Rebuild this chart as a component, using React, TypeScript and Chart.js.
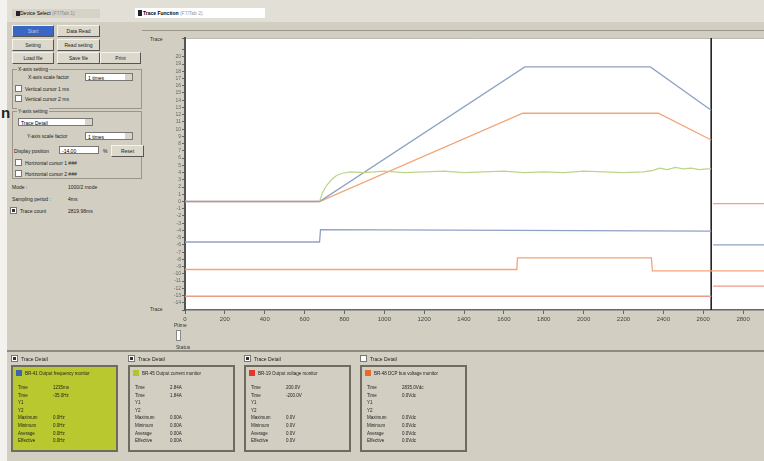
import React, { useEffect, useRef } from "react";
import { Chart, registerables } from "chart.js";

Chart.register(...registerables);

// ---- data (time in ms, value in trace units) ----
const xTickStep = 200;
const xMax = 2905;
const yMin = -15;
const yMax = 22.6;

const blueRampX = [0, 675, 1705, 2335, 2640];
const blueRampY = [0, 0, 18.6, 18.6, 12.6];

const orangeRampX = [0, 675, 1695, 2375, 2640];
const orangeRampY = [0, 0, 12.2, 12.2, 8.5];

const greenX = [675, 690, 710, 735, 760, 790, 830, 900, 1000, 1100, 1200, 1300, 1400, 1500, 1600, 1700, 1800, 1900, 2000, 2100, 2200, 2300, 2350, 2380, 2420, 2460, 2500, 2540, 2580, 2620, 2640];
const greenY = [0, 1.2, 2.2, 3.0, 3.6, 3.9, 4.1, 4.0, 4.2, 4.0, 4.1, 4.2, 4.0, 4.1, 4.2, 4.0, 4.1, 4.0, 4.2, 4.1, 4.0, 4.1, 4.3, 4.6, 4.4, 4.7, 4.5, 4.6, 4.4, 4.5, 4.5];

const lowBlueX = [0, 675, 680, 2640];
const lowBlueY = [-5.6, -5.6, -3.9, -4.1];

const lowOrangeX = [0, 1665, 1668, 2340, 2345, 2905];
const lowOrangeY = [-9.4, -9.4, -7.8, -7.8, -9.6, -9.6];

const bottomRedX = [0, 2640];
const bottomRedY = [-13.1, -13.1];

const afterOrangeX = [2650, 2905];
const afterOrangeY = [-0.3, -0.3];
const afterBlueX = [2650, 2905];
const afterBlueY = [-6.0, -6.0];
const afterPinkX = [2650, 2905];
const afterPinkY = [-11.7, -11.7];

const cursorX = [2640, 2640];
const cursorY = [yMin, yMax];

const pts = (xs: number[], ys: number[]) => xs.map((x, i) => ({ x, y: ys[i] }));

const BLUE = "#8ea2c6";
const ORANGE = "#f2a577";
const GREEN = "#bcd58a";
const RED = "#eb9a88";

const panel = "#d2cec2";

const ds = (xs: number[], ys: number[], color: string, w = 1.3) => ({
  data: pts(xs, ys),
  borderColor: color,
  borderWidth: w,
  pointRadius: 0,
  fill: false,
  tension: 0,
});

function TraceChart() {
  const ref = useRef<HTMLCanvasElement>(null);
  useEffect(() => {
    if (!ref.current) return;
    const whiteBg = {
      id: "whiteBg",
      beforeDraw(chart: any) {
        const { ctx, chartArea } = chart;
        ctx.save();
        ctx.fillStyle = "#ffffff";
        ctx.fillRect(chartArea.left, chartArea.top, chartArea.right - chartArea.left, chartArea.bottom - chartArea.top);
        ctx.strokeStyle = "#bdb9ae";
        ctx.lineWidth = 1;
        ctx.beginPath();
        ctx.moveTo(chartArea.left, chartArea.top + 0.5);
        ctx.lineTo(chartArea.right, chartArea.top + 0.5);
        ctx.stroke();
        ctx.restore();
      },
    };
    const chart = new Chart(ref.current, {
      type: "line",
      data: {
        datasets: [
          ds(bottomRedX, bottomRedY, RED),
          ds(lowOrangeX, lowOrangeY, ORANGE),
          ds(lowBlueX, lowBlueY, BLUE),
          ds(greenX, greenY, GREEN, 1.2),
          ds(blueRampX, blueRampY, BLUE),
          ds(orangeRampX, orangeRampY, ORANGE),
          ds(afterOrangeX, afterOrangeY, ORANGE),
          ds(afterBlueX, afterBlueY, BLUE),
          ds(afterPinkX, afterPinkY, RED),
          ds(cursorX, cursorY, "#222222", 1.6),
        ] as any,
      },
      options: {
        animation: false,
        responsive: true,
        maintainAspectRatio: false,
        layout: { padding: { top: 8, right: 0, left: 0, bottom: 0 } },
        plugins: { legend: { display: false }, tooltip: { enabled: false } },
        scales: {
          x: {
            type: "linear",
            min: 0,
            max: xMax,
            afterFit: (s: any) => { s.height = 32; },
            ticks: {
              stepSize: xTickStep,
              includeBounds: false,
              color: "#444",
              font: { size: 6, family: "Liberation Sans" },
              maxRotation: 0,
              autoSkip: false,
              padding: 2,
              callback: (v: any) => (v % xTickStep === 0 ? String(v) : ""),
            },
            grid: { drawOnChartArea: false, tickLength: 4, color: "#666" },
            border: { color: "#666", width: 1.5 },
          },
          y: {
            type: "linear",
            min: yMin,
            max: yMax,
            afterFit: (s: any) => { s.width = 45; },
            ticks: {
              stepSize: 1,
              autoSkip: false,
              color: "#666",
              font: { size: 5, family: "Liberation Sans" },
              padding: 1,
              callback: (v: any) => (v <= 20 && v >= -14 ? String(v) : ""),
            },
            grid: { drawOnChartArea: false, tickLength: 3, color: "#666" },
            border: { color: "#555", width: 2 },
          },
        },
      },
      plugins: [whiteBg],
    });
    return () => chart.destroy();
  }, []);
  return <canvas ref={ref} />;
}

const txt = (s: React.CSSProperties): React.CSSProperties => ({ position: "absolute", whiteSpace: "nowrap", ...s });

function Btn({ x, y, w, label, blue }: { x: number; y: number; w: number; label: string; blue?: boolean }) {
  return (
    <div
      style={{
        position: "absolute",
        left: x,
        top: y,
        width: w,
        height: 10,
        background: blue ? "#3a66c4" : "#dcd8cc",
        border: "1px solid #555",
        borderTopColor: "#f4f2ec",
        borderLeftColor: "#f4f2ec",
        color: blue ? "#bcd" : "#222",
        fontSize: 5,
        lineHeight: "10px",
        textAlign: "center",
      }}
    >
      {label}
    </div>
  );
}

function Group({ x, y, w, h, title }: { x: number; y: number; w: number; h: number; title: string }) {
  return (
    <div style={{ position: "absolute", left: x, top: y, width: w, height: h, border: "1px solid #9a968c" }}>
      <div style={txt({ left: 4, top: -4, background: panel, fontSize: 5, padding: "0 1px", color: "#222" })}>{title}</div>
    </div>
  );
}

function Check({ x, y, label, checked }: { x: number; y: number; label: string; checked?: boolean }) {
  return (
    <div style={txt({ left: x, top: y, fontSize: 5, color: "#222", display: "flex", alignItems: "center" })}>
      <span style={{ display: "inline-block", position: "relative", width: 5, height: 5, background: "#fff", border: "1px solid #777", marginRight: 3 }}>
        {checked ? <span style={{ position: "absolute", left: 1, top: 1, width: 3, height: 3, background: "#333" }} /> : null}
      </span>
      {label}
    </div>
  );
}

function Combo({ x, y, w, label }: { x: number; y: number; w: number; label: string }) {
  return (
    <div style={{ position: "absolute", left: x, top: y, width: w, height: 8, background: "#fff", border: "1px solid #777", fontSize: 5, lineHeight: "8px", paddingLeft: 2, boxSizing: "border-box" }}>
      {label}
      <span style={{ position: "absolute", right: 0, top: 0, width: 7, height: 6, background: "#d8d4c8" }} />
    </div>
  );
}

const detailRows = ["Time", "Time", "Y1", "Y2", "Maximum", "Minimum", "Average", "Effective"];

function Detail({ x, title, color, vals, fill, checked }: { x: number; title: string; color: string; vals: string[]; fill?: string; checked: boolean }) {
  return (
    <div style={{ position: "absolute", left: x, top: 355, width: 114, height: 100 }}>
      <Check x={2} y={0} label="Trace Detail" checked={checked} />
      <div
        style={{
          position: "absolute",
          left: 2,
          top: 10,
          width: 107,
          height: 87,
          background: fill || panel,
          border: "2px solid #6f6b60",
          boxSizing: "border-box",
        }}
      >
        <div style={txt({ left: 3, top: 3, fontSize: 4.5, color: "#222", display: "flex", alignItems: "center" })}>
          <span style={{ display: "inline-block", width: 6, height: 6, background: color, marginRight: 3 }} />
          {title}
        </div>
        {detailRows.map((r, i) => (
          <React.Fragment key={i}>
            <div style={txt({ left: 5, top: 18 + i * 7.6, fontSize: 4.5, color: "#222" })}>{r}</div>
            <div style={txt({ left: 40, top: 18 + i * 7.6, fontSize: 4.5, color: "#222" })}>{vals[i] || ""}</div>
          </React.Fragment>
        ))}
      </div>
    </div>
  );
}

export default function App() {
  return (
    <div
      style={{
        position: "fixed",
        left: 0,
        top: 0,
        width: 764,
        height: 461,
        overflow: "hidden",
        background: panel,
        fontFamily: "Liberation Sans, Arial, sans-serif",
      }}
    >
      {/* outer white paper strip */}
      <div style={{ position: "absolute", left: 0, top: 0, width: 7, height: 461, background: "#f3f2ee" }} />
      <div style={txt({ left: 1, top: 104, fontSize: 15, color: "#222", fontWeight: "bold" })}>n</div>
      {/* top bar */}
      <div style={{ position: "absolute", left: 7, top: 0, width: 757, height: 22, background: "#e2dfd6" }} />
      <div style={{ position: "absolute", left: 12, top: 9, width: 80, height: 9, background: "#d6d2c6", fontSize: 5, lineHeight: "9px", paddingLeft: 8 }}>Device Select <span style={{ color: "#888" }}>(F7/Tab 1)</span></div>
      <div style={{ position: "absolute", left: 16, top: 11, width: 4, height: 5, background: "#223" }} />
      <div style={{ position: "absolute", left: 135, top: 8, width: 130, height: 10, background: "#fff", fontSize: 5, lineHeight: "10px", paddingLeft: 8, boxSizing: "border-box", fontWeight: "bold" }}>Trace Function <span style={{ color: "#999", fontWeight: "normal" }}>(F7/Tab 2)</span></div>
      <div style={{ position: "absolute", left: 138, top: 10, width: 4, height: 6, background: "#223" }} />

      {/* left panel */}
      <Btn x={12} y={25} w={40} label="Start" blue />
      <Btn x={57} y={25} w={41} label="Data Read" />
      <Btn x={12} y={39} w={40} label="Setting" />
      <Btn x={57} y={39} w={41} label="Read setting" />
      <Btn x={12} y={52} w={40} label="Load file" />
      <Btn x={57} y={52} w={41} label="Save file" />
      <Btn x={100} y={52} w={39} label="Print" />

      <Group x={12} y={69} w={128} h={38} title="X-axis setting" />
      <div style={txt({ left: 28, top: 74, fontSize: 5, color: "#222" })}>X-axis scale factor</div>
      <Combo x={85} y={73} w={48} label="1 times" />
      <Check x={15} y={85} label="Vertical cursor 1       ms" />
      <Check x={15} y={95} label="Vertical cursor 2       ms" />

      <Group x={12} y={111} w={128} h={66} title="Y-axis setting" />
      <Combo x={18} y={118} w={75} label="Trace Detail" />
      <div style={txt({ left: 27, top: 133, fontSize: 5, color: "#222" })}>Y-axis scale factor</div>
      <Combo x={85} y={132} w={48} label="1 times" />
      <div style={txt({ left: 14, top: 148, fontSize: 5, color: "#222" })}>Display position</div>
      <div style={{ position: "absolute", left: 59, top: 146, width: 40, height: 8, background: "#fff", border: "1px solid #777", fontSize: 5, lineHeight: "8px", paddingLeft: 2, boxSizing: "border-box" }}>-14.00</div>
      <div style={txt({ left: 103, top: 148, fontSize: 5, color: "#222" })}>%</div>
      <Btn x={111} y={145} w={31} label="Reset" />
      <Check x={15} y={159} label="Horizontal cursor 1     ###" />
      <Check x={15} y={170} label="Horizontal cursor 2     ###" />

      <div style={txt({ left: 12, top: 184, fontSize: 5, color: "#222" })}>Mode :</div>
      <div style={txt({ left: 68, top: 184, fontSize: 5, color: "#222" })}>1000/2 mode</div>
      <div style={txt({ left: 12, top: 196, fontSize: 5, color: "#222" })}>Sampling period :</div>
      <div style={txt({ left: 68, top: 196, fontSize: 5, color: "#222" })}>4ms</div>
      <Check x={10} y={207} label="Trace count" checked />
      <div style={txt({ left: 68, top: 208, fontSize: 5, color: "#222" })}>2819.98ms</div>

      {/* chart panel */}
      <div style={{ position: "absolute", left: 142, top: 30, width: 622, height: 1, background: "#9c988c" }} />
      <div style={txt({ left: 150, top: 36, fontSize: 5, color: "#333" })}>Trace</div>
      <div style={txt({ left: 150, top: 306, fontSize: 5, color: "#333" })}>Trace</div>
      <div style={{ position: "absolute", left: 140, top: 30, width: 624, height: 312 }}>
        <TraceChart />
      </div>
      <div style={txt({ left: 174, top: 322, fontSize: 5, color: "#333" })}>Ptime</div>
      <div style={{ position: "absolute", left: 176, top: 330, width: 3, height: 9, background: "#fff", border: "1px solid #888" }} />
      <div style={txt({ left: 176, top: 344, fontSize: 5, color: "#333" })}>Status</div>

      {/* bottom panel */}
      <div style={{ position: "absolute", left: 7, top: 350, width: 757, height: 2, background: "#8e8a80" }} />
      <Detail x={9} title="BR-41 Output frequency monitor" color="#3b63b8" fill="#b8c82e" checked vals={["1235ms", "-35.0Hz", "", "", "0.0Hz", "0.0Hz", "0.0Hz", "0.0Hz"]} />
      <Detail x={126} title="BR-45 Output current monitor" color="#b4c22c" checked vals={["2.84A", "1.84A", "", "", "0.00A", "0.00A", "0.00A", "0.00A"]} />
      <Detail x={242} title="BR-19 Output voltage monitor" color="#e0382a" checked vals={["200.0V", "-200.0V", "", "", "0.0V", "0.0V", "0.0V", "0.0V"]} />
      <Detail x={358} title="BR-48 DCP bus voltage monitor" color="#e86a24" checked={false} vals={["2835.0Vdc", "0.0Vdc", "", "", "0.0Vdc", "0.0Vdc", "0.0Vdc", "0.0Vdc"]} />
    </div>
  );
}
